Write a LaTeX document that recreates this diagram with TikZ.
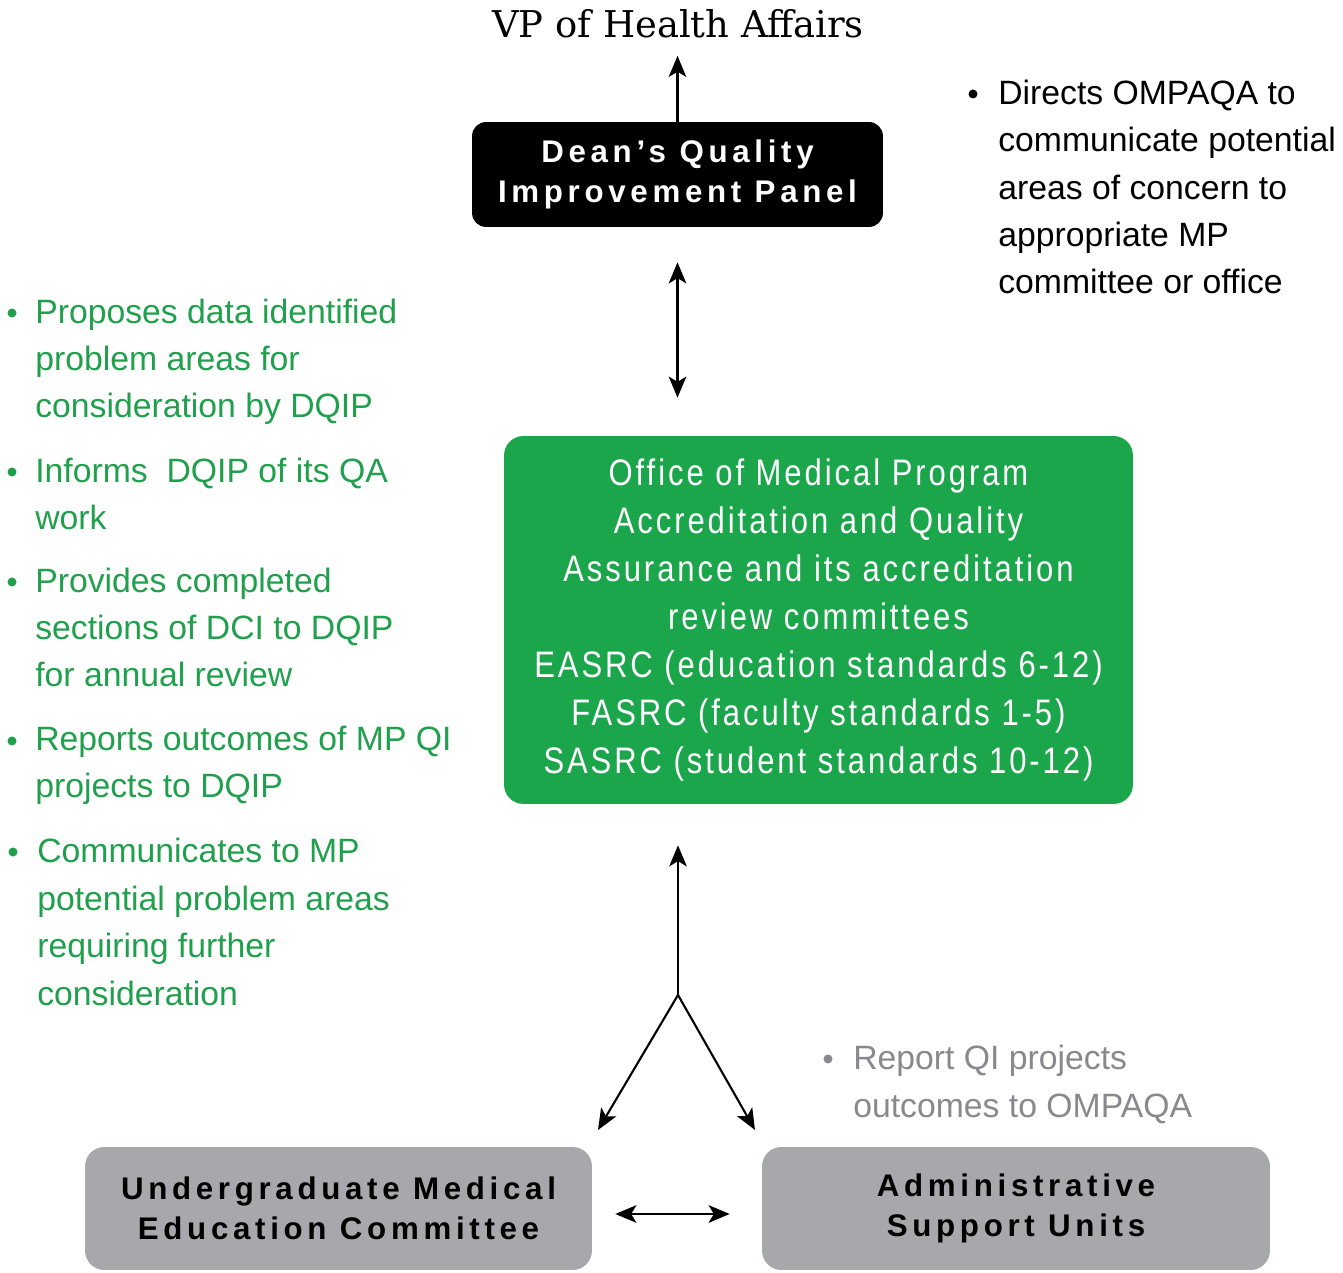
\documentclass[tikz,border=0pt]{standalone}
\usepackage{fontspec}
\setmainfont{Liberation Sans}
\newfontfamily\titlefont{DejaVu Serif}
\newfontfamily\panelfont[LetterSpace=15]{Liberation Sans Bold}
\newfontfamily\officefont[LetterSpace=8,FakeStretch=0.84]{Liberation Sans}
\usetikzlibrary{arrows.meta}
\definecolor{omgreen}{RGB}{28,166,76}
\definecolor{txtgreen}{RGB}{32,160,76}
\definecolor{unitgray}{RGB}{166,168,171}
\definecolor{notegray}{RGB}{135,137,140}

\begin{document}
\begin{tikzpicture}[line cap=round,line join=round,>={Stealth[length=12pt,width=10pt,inset=3pt]},x=0.02cm,y=-0.02cm,
	panel/.style={rounded corners=8pt,inner sep=0pt,align=center,font=\panelfont\fontsize{17.8}{22.8}\selectfont},
	note/.style={anchor=base west,inner sep=0pt,align=left,font=\fontsize{19.2}{27}\selectfont},
	link/.style={line width=1.2pt}]
		\useasboundingbox (0,0) rectangle (1343,1273);
		% boxes
		\node [panel,fill=black,text=white,minimum width=8.22cm,minimum height=2.1cm] (dqip) at (677.5,174.5) {Dean’s Quality\\Improvement Panel};
		\node [rounded corners=11pt,fill=omgreen,text=white,inner sep=0pt,align=center,minimum width=12.58cm,minimum height=7.36cm,font=\officefont\fontsize{21}{27.3}\selectfont] (ompaqa) at (818.5,620) {Office of Medical Program\\Accreditation and Quality\\Assurance and its accreditation\\review committees\\EASRC (education standards 6-12)\\FASRC (faculty standards 1-5)\\SASRC (student standards 10-12)};
		\node [panel,fill=unitgray,minimum width=10.14cm,minimum height=2.46cm,rounded corners=11pt] (ume) at (338.5,1208.5) {Undergraduate Medical\\Education Committee};
		\node [panel,fill=unitgray,minimum width=10.16cm,minimum height=2.46cm,rounded corners=11pt] (asu) at (1016,1208.5) {Administrative\\Support Units};
		\node [anchor=base,inner sep=0pt,font=\titlefont\fontsize{21}{25}\selectfont] (vp) at (678,38) {VP of Health Affairs};
		% notes (placed at the baseline of their last line)
		\node [note,text=black] (directs) at (998,294) {Directs OMPAQA to\\communicate potential\\areas of concern to\\appropriate MP\\committee or office};
		\node [note,text=txtgreen] (proposes) at (35,418) {Proposes data identified\\problem areas for\\consideration by DQIP};
		\node [note,text=txtgreen] (informs) at (35,530) {Informs\ \ DQIP of its QA\\work};
		\node [note,text=txtgreen] (provides) at (35,687) {Provides completed\\sections of DCI to DQIP\\for annual review};
		\node [note,text=txtgreen] (reports) at (35,798) {Reports outcomes of MP QI\\projects to DQIP};
		\node [note,text=txtgreen] (communicates) at (37,1005) {Communicates to MP\\potential problem areas\\requiring further\\consideration};
		\node [note,text=notegray] (reportqi) at (853,1117) {Report QI projects\\outcomes to OMPAQA};
		\fill [color=black] (973,94) circle (4.5);
		\fill [color=txtgreen] (12,313) circle (4.5);
		\fill [color=txtgreen] (12,472) circle (4.5);
		\fill [color=txtgreen] (12,582) circle (4.5);
		\fill [color=txtgreen] (12,741) circle (4.5);
		\fill [color=txtgreen] (13,852) circle (4.5);
		\fill [color=notegray] (828,1059) circle (4.5);
		% arrows
		\coordinate (fork) at (678,995);
		\coordinate (umetip) at (598,1130);
		\coordinate (asutip) at (755,1130);
		\draw [link,->,shorten >=0.34cm] (dqip.north) -- (dqip.north |- vp.south);
		\draw [link,<->,shorten <=0.7cm,shorten >=0.76cm] (dqip.south) -- (dqip.south |- ompaqa.north);
		\draw [link,->,shorten >=0.82cm] (fork) -- (fork |- ompaqa.south);
		\draw [link,->] (fork) -- (umetip);
		\draw [link,->] (fork) -- (asutip);
		\draw [link,<->,shorten <=0.46cm,shorten >=0.64cm] ([yshift=-0.11cm]ume.east) -- ([yshift=-0.11cm]asu.west);
\end{tikzpicture}
\end{document}
